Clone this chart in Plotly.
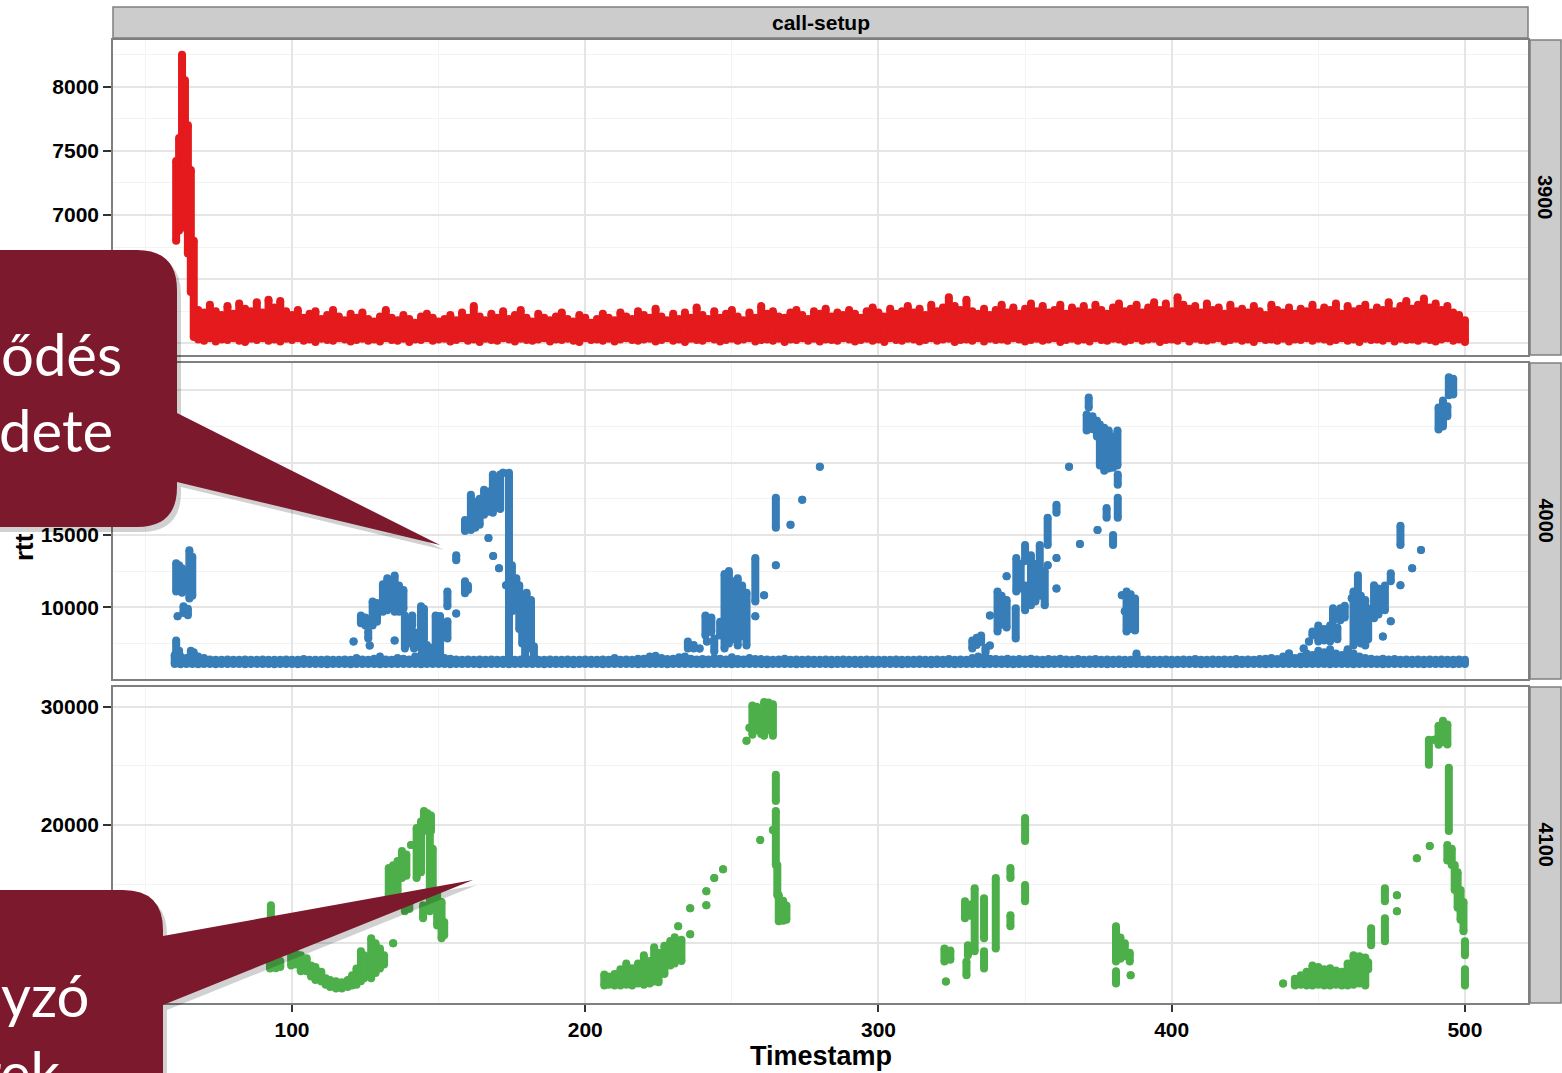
import plotly.graph_objects as go

W, H = 1562, 1073

# ---------------- data ----------------
# Each entry: a timestamp with the lowest and highest rtt seen at that time
# facet 3900 (red)
red_peak_t = [60.5, 61.5, 62.5, 63.5, 64.5, 65.5, 66.5]
red_peak_lo = [6800, 6880, 6900, 6950, 6700, 6400, 6050]
red_peak_hi = [7420, 7600, 8250, 8050, 7700, 7350, 6800]

red_band_t = list(range(68, 501, 2))
red_band_hi = [
    6260, 6240, 6300, 6250, 6220, 6290, 6230, 6310, 6270, 6250,
    6320, 6240, 6340, 6280, 6330, 6250, 6220, 6260, 6200, 6230,
    6250, 6190, 6220, 6260, 6210, 6180, 6230, 6200, 6240, 6190,
    6170, 6210, 6260, 6200, 6180, 6220, 6190, 6160, 6210, 6230,
    6200, 6170, 6190, 6220, 6180, 6240, 6200, 6290, 6210, 6180,
    6230, 6200, 6250, 6190, 6220, 6260, 6200, 6170, 6230, 6200,
    6180, 6210, 6240, 6190, 6170, 6220, 6200, 6160, 6190, 6230,
    6200, 6180, 6240, 6210, 6190, 6250, 6220, 6200, 6270, 6210,
    6180, 6230, 6190, 6240, 6200, 6280, 6220, 6190, 6250, 6200,
    6230, 6260, 6210, 6180, 6240, 6200, 6290, 6230, 6250, 6210,
    6200, 6240, 6260, 6220, 6190, 6250, 6230, 6270, 6210, 6240,
    6220, 6260, 6230, 6200, 6250, 6280, 6240, 6210, 6270, 6230,
    6250, 6290, 6240, 6270, 6220, 6300, 6250, 6280, 6360, 6290,
    6260, 6340, 6250, 6230, 6270, 6220, 6260, 6300, 6240, 6280,
    6230, 6270, 6310, 6250, 6290, 6240, 6260, 6300, 6230, 6280,
    6250, 6290, 6240, 6300, 6260, 6230, 6280, 6310, 6250, 6270,
    6300, 6240, 6280, 6320, 6260, 6310, 6250, 6360, 6300, 6270,
    6290, 6240, 6310, 6260, 6280, 6230, 6300, 6250, 6270, 6240,
    6290, 6250, 6220, 6300, 6260, 6240, 6280, 6230, 6270, 6250,
    6300, 6240, 6280, 6260, 6310, 6230, 6290, 6250, 6270, 6300,
    6240, 6280, 6260, 6320, 6250, 6290, 6330, 6270, 6300, 6350,
    6280, 6310, 6260, 6290, 6240, 6220, 6180,
]
red_band_lo = [
    6030, 6020, 6040, 6015, 6030, 6025, 6040, 6020, 6010, 6035,
    6025, 6040, 6020, 6030, 6015, 6035, 6025, 6040, 6020, 6030,
    6010, 6035, 6025, 6020, 6040, 6030, 6015, 6025, 6035, 6020,
    6030, 6015, 6040, 6025, 6020, 6035, 6010, 6030, 6025, 6040,
    6020, 6030, 6035, 6015, 6025, 6040, 6020, 6030, 6010, 6035,
    6025, 6020, 6040, 6030, 6015, 6035, 6025, 6020, 6030, 6040,
    6015, 6030, 6025, 6035, 6020, 6010, 6040, 6025, 6030, 6020,
    6035, 6015, 6030, 6040, 6025, 6020, 6030, 6035, 6015, 6025,
    6040, 6020, 6030, 6010, 6035, 6025, 6020, 6040, 6030, 6015,
    6025, 6035, 6020, 6030, 6040, 6015, 6025, 6030, 6020, 6035,
    6010, 6030, 6025, 6040, 6020, 6035, 6015, 6030, 6025, 6020,
    6040, 6030, 6015, 6025, 6035, 6020, 6030, 6010, 6040, 6025,
    6020, 6035, 6030, 6015, 6025, 6040, 6020, 6030, 6035, 6010,
    6025, 6030, 6020, 6040, 6015, 6035, 6025, 6030, 6020, 6040,
    6030, 6015, 6025, 6035, 6020, 6030, 6040, 6010, 6025, 6035,
    6020, 6030, 6015, 6040, 6025, 6020, 6035, 6030, 6015, 6025,
    6040, 6020, 6030, 6035, 6010, 6025, 6030, 6020, 6040, 6015,
    6035, 6025, 6020, 6030, 6040, 6015, 6025, 6035, 6020, 6030,
    6010, 6040, 6025, 6030, 6020, 6035, 6015, 6030, 6025, 6040,
    6020, 6035, 6030, 6015, 6025, 6040, 6020, 6030, 6010, 6035,
    6025, 6030, 6020, 6040, 6015, 6035, 6025, 6030, 6020, 6035,
    6025, 6015, 6030, 6040, 6020, 6030, 6010,
]

# facet 4000 (blue)
blue_base_t = list(range(60, 501, 2))
blue_base_hi = [
    6700, 6600, 6500, 6450, 6600, 6500, 6400, 6380, 6380, 6390,
    6380, 6370, 6390, 6380, 6380, 6400, 6380, 6370, 6380, 6390,
    6380, 6380, 6420, 6380, 6370, 6380, 6400, 6380, 6380, 6390,
    6380, 6500, 6400, 6380, 6450, 6600, 6400, 6380, 6500, 6450,
    6400, 6600, 6700, 6800, 6900, 6700, 6500, 6450, 6400, 6380,
    6400, 6380, 6390, 6380, 6400, 6380, 6380, 6390, 6380, 6400,
    6450, 6400, 6380, 6380, 6390, 6380, 6380, 6400, 6380, 6380,
    6390, 6380, 6380, 6400, 6380, 6500, 6380, 6400, 6380, 6450,
    6450, 6600, 6650, 6500, 6420, 6450, 6550, 6600, 6450, 6400,
    6420, 6400, 6500, 6450, 6400, 6550, 6420, 6400, 6500, 6420,
    6420, 6400, 6380, 6400, 6450, 6380, 6400, 6380, 6400, 6380,
    6380, 6390, 6380, 6380, 6390, 6380, 6380, 6380, 6390, 6380,
    6380, 6380, 6380, 6390, 6380, 6380, 6380, 6390, 6380, 6380,
    6400, 6380, 6420, 6380, 6400, 6380, 6500, 6600, 6550, 6450,
    6420, 6400, 6450, 6400, 6420, 6400, 6450, 6400, 6380, 6420,
    6400, 6450, 6400, 6380, 6420, 6380, 6400, 6420, 6380, 6400,
    6380, 6400, 6380, 6380, 6390, 6380, 6400, 6380, 6380, 6390,
    6380, 6380, 6390, 6380, 6420, 6380, 6380, 6390, 6380, 6400,
    6380, 6420, 6380, 6400, 6380, 6420, 6450, 6500, 6420, 6600,
    6700, 6500, 6600, 6800, 6700, 7000, 6900, 7100, 6800, 6700,
    7000, 6800, 6600, 6500, 6450, 6400, 6450, 6400, 6420, 6380,
    6400, 6380, 6390, 6380, 6400, 6380, 6390, 6380, 6380, 6390,
    6380,
]
blue_base_lo = [
    6080, 6070, 6090, 6080, 6060, 6080, 6090, 6070, 6080, 6080,
    6090, 6080, 6070, 6080, 6090, 6080, 6080, 6070, 6090, 6080,
    6080, 6070, 6080, 6090, 6080, 6080, 6070, 6080, 6090, 6080,
    6070, 6080, 6080, 6090, 6080, 6070, 6080, 6080, 6090, 6080,
    6080, 6090, 6070, 6080, 6080, 6090, 6080, 6070, 6080, 6090,
    6080, 6080, 6070, 6090, 6080, 6080, 6090, 6070, 6080, 6080,
    6090, 6080, 6080, 6070, 6080, 6090, 6080, 6080, 6070, 6080,
    6080, 6090, 6080, 6070, 6080, 6080, 6090, 6080, 6080, 6070,
    6080, 6080, 6090, 6080, 6070, 6080, 6080, 6090, 6080, 6080,
    6070, 6080, 6090, 6080, 6080, 6070, 6080, 6090, 6080, 6080,
    6080, 6070, 6080, 6090, 6080, 6080, 6070, 6080, 6090, 6080,
    6090, 6080, 6070, 6080, 6080, 6090, 6080, 6070, 6080, 6080,
    6080, 6090, 6080, 6080, 6070, 6080, 6090, 6080, 6080, 6070,
    6080, 6080, 6090, 6070, 6080, 6080, 6090, 6080, 6070, 6080,
    6090, 6080, 6080, 6070, 6080, 6090, 6080, 6080, 6070, 6080,
    6080, 6090, 6080, 6070, 6080, 6080, 6090, 6080, 6080, 6070,
    6080, 6080, 6070, 6090, 6080, 6080, 6070, 6080, 6090, 6080,
    6070, 6080, 6080, 6090, 6080, 6070, 6080, 6080, 6090, 6080,
    6080, 6070, 6090, 6080, 6080, 6090, 6070, 6080, 6080, 6090,
    6080, 6080, 6070, 6080, 6090, 6080, 6080, 6070, 6080, 6090,
    6080, 6070, 6080, 6090, 6080, 6080, 6070, 6080, 6090, 6080,
    6080, 6090, 6080, 6070, 6080, 6080, 6090, 6080, 6070, 6080,
    6080,
]

blue_t = [
    60.5, 61.5, 62.5, 65.0, 66.0, 61.0, 63.0, 64.5, 60.5, 61.5, 65.5, 66.5,
    121, 123.5, 125, 126, 126.5, 127.5, 129, 131, 132.5, 134, 135, 135,
    136.5, 138, 138.5, 140, 141, 141.6, 144, 145, 144.5, 146, 147.5, 149,
    150.5, 153, 153, 156, 156, 159, 160, 159, 161, 162.5, 164, 167,
    165.5, 167, 168.5, 170, 171, 168.6, 170.6, 172, 173, 174, 175, 176.5,
    177.5, 178.5, 180, 181.5, 179.5, 182.5,
    235, 237, 239, 241, 241.5, 243, 244, 246, 247.5, 249, 250.5, 252,
    253.5, 255, 258, 258, 261, 265, 265, 270, 274, 280,
    332, 333.5, 335, 336.5, 338, 338, 340.6, 342, 343.7, 343.7, 346.8, 347,
    348.5, 350, 350, 352, 353.5, 355, 356.7, 357.7, 357.7, 360.7, 360.7, 360.7,
    365, 368.7, 371.7, 371, 373, 374.5, 374.7, 375.5, 377, 377.8, 378.5, 380,
    380, 381.5, 381.6, 381.6, 383, 384, 384.6, 386, 387.5, 388,
    440, 445, 446.8, 448, 450, 452, 454, 455, 456.5, 457.5, 459, 460,
    461.4, 462, 463.5, 464.5, 466, 467, 469, 470.5, 472, 472.7, 474.7, 474.7,
    478, 478, 482, 485, 491, 492.5, 494, 494.5, 496,
]
blue_lo = [
    11100, 11200, 11000, 10600, 10800, 9375, 9600, 9450, 6460, 6460, 6460, 6460,
    7640, 8900, 8750, 7850, 7360, 8750, 9000, 9700, 9800, 10100, 9700, 7700,
    9700, 9900, 7150, 7500, 8750, 7150, 7150, 7800, 6250, 6300, 6250, 6900,
    6250, 10070, 7850, 13260, 9580, 10970, 11200, 15280, 15350, 15500, 15700, 14790,
    16390, 16600, 16530, 17000, 16800, 13540, 12700, 19300, 11530, 6460, 9720, 9800,
    8500, 7500, 7150, 7150, 6460, 6460,
    7150, 7150, 7150, 8050, 7640, 8300, 6940, 8050, 7150, 7500, 7800, 7360,
    8000, 7360, 10400, 9375, 10830, 15490, 12900, 15700, 17430, 19720,
    7150, 7400, 7600, 6900, 9440, 7360, 8330, 8800, 12150, 8600, 7850, 11100,
    11300, 13200, 9800, 10140, 10400, 10800, 10140, 14300, 12900, 16530, 13400, 11300,
    19720, 14380, 23800, 22220, 22300, 21800, 15350, 19800, 19440, 16180, 19600, 19650,
    14300, 19800, 18470, 16180, 10830, 9720, 8330, 8500, 8400, 6460,
    6800, 7150, 7640, 8050, 7640, 7700, 7640, 9030, 7800, 9100, 9300, 6800,
    10625, 7360, 10625, 7500, 7360, 7800, 9240, 9500, 7990, 9800, 9030, 11800,
    11530, 14300, 12700, 13960, 22290, 22500, 23200, 24650, 24700,
]
blue_hi = [
    13050, 12900, 12700, 13950, 13500, 9375, 10070, 9900, 7700, 7000, 7000, 6900,
    7640, 9440, 9300, 8330, 7360, 10400, 10300, 11600, 12000, 11800, 12200, 7700,
    11500, 11200, 9440, 9000, 9440, 8300, 10070, 9900, 7850, 7400, 7200, 9440,
    9400, 11100, 9030, 13600, 9580, 11800, 11500, 16040, 17780, 17300, 17500, 14790,
    18120, 18000, 19170, 19000, 19170, 13540, 12700, 19300, 11530, 19300, 12900, 12000,
    11530, 10800, 11000, 10500, 7640, 7300,
    7640, 7400, 7150, 9440, 7640, 9300, 7850, 9000, 12300, 12500, 11800, 12000,
    11500, 11000, 13400, 9375, 10830, 17570, 12900, 15700, 17430, 19720,
    7700, 7900, 8050, 7200, 9440, 7360, 11100, 10800, 12150, 10500, 9930, 13400,
    13000, 14300, 11500, 13600, 13000, 14300, 12500, 16180, 12900, 17080, 13400, 11300,
    19720, 14380, 24500, 23330, 23200, 22900, 15350, 22640, 22400, 16870, 22220, 21800,
    15000, 22220, 19170, 17570, 10830, 9720, 11100, 10900, 10600, 6800,
    6800, 7150, 7640, 8330, 8750, 8500, 8750, 9930, 8600, 9930, 10100, 7100,
    10625, 11100, 12220, 10800, 10500, 9900, 11530, 11300, 7990, 11500, 9030, 12360,
    11530, 15630, 12700, 13960, 23800, 24300, 23900, 25900, 25800,
]

# facet 4100 (green)
green_t = [
    92.8, 92.5, 94.5, 96, 99.7, 101.5, 103, 105, 106.5, 108, 110, 111.5,
    113, 115, 117, 119, 120.5, 122, 123.5, 124.6, 127, 128.5, 130, 131.4,
    134.5, 133, 134.5, 136, 137.5, 139, 138.5, 140, 140.6, 142.5, 144, 145,
    146.2, 147.4, 144.7, 147, 148, 149.5, 151, 151.9,
    206.5, 208, 210, 212, 214, 216, 218, 220, 222, 223.5, 225, 227,
    229, 230.5, 231.7, 232.8, 235.8, 235.8, 241.3, 241.3, 244, 247, 255, 256,
    257, 258.5, 260, 261, 262.5, 264, 259.7, 264, 265, 265, 265.5, 266,
    267.5, 268.6,
    322.5, 323, 324.5, 329.5, 330, 330.5, 331.7, 332.8, 336, 336, 340, 345,
    345, 350, 350,
    381, 382.5, 384, 385.7, 381, 386,
    438, 442, 444, 446, 448, 450, 452, 454, 456, 458, 460, 462,
    464, 466, 467, 468, 472.7, 472.7, 476.8, 476.8, 483.6, 488, 487.7, 489.5,
    491, 492.5, 494, 494.5, 494, 495.5, 496.5, 497.5, 498.5, 499.5, 500, 500,
]
green_lo = [
    12120, 7880, 7900, 8000, 8130, 8200, 7630, 7630, 7200, 6900, 6780, 6500,
    6300, 6190, 6190, 6300, 6440, 6500, 6800, 7040, 7040, 7500, 7880, 8200,
    10000, 14070, 14200, 14410, 15510, 15700, 12710, 12900, 18300, 15510, 16000, 19500,
    19700, 19500, 12120, 12710, 13000, 11500, 10420, 10680,
    6440, 6500, 6440, 6440, 6500, 6440, 6600, 6500, 6610, 6780, 6700, 7400,
    8130, 8300, 11440, 8500, 12970, 10760, 14410, 13220, 15510, 16270, 27120, 28220,
    27630, 28000, 27700, 27540, 28000, 27540, 18730, 19580, 22030, 16610, 14070, 11860,
    11900, 12000,
    8470, 6780, 8600, 12120, 7290, 8980, 12300, 9320, 10420, 7880, 9570, 15510,
    11440, 18640, 13560,
    8470, 8700, 8900, 8470, 6610, 7290,
    6610, 6440, 6500, 6440, 6440, 6500, 6440, 6440, 6500, 6440, 6440, 6500,
    6600, 6440, 7800, 9830, 13560, 10170, 14070, 12710, 17200, 18220, 25090, 27200,
    26780, 27000, 26800, 19490, 17000, 16610, 14500, 13000, 12000, 11020, 9000, 6440,
]
green_hi = [
    13220, 8980, 8700, 8500, 9320, 9100, 9000, 8730, 8130, 8000, 7600, 7040,
    6900, 6800, 6700, 6900, 7300, 7880, 9320, 9000, 10420, 10000, 9570, 9000,
    10000, 16360, 16600, 16950, 17800, 17500, 13810, 13400, 18300, 19750, 20300, 21190,
    21000, 20800, 13220, 19500, 18000, 14410, 13500, 11800,
    7370, 7200, 7400, 7800, 8300, 7900, 8300, 8980, 8500, 9660, 9200, 9800,
    10200, 10510, 11440, 10300, 12970, 10760, 14410, 13220, 15510, 16270, 27120, 28220,
    30100, 30000, 29500, 30400, 30350, 30200, 18730, 19580, 24240, 21190, 16610, 14070,
    13600, 13200,
    9570, 6780, 9400, 13560, 8470, 9830, 13300, 14660, 13810, 9320, 15510, 16360,
    12370, 20590, 14920,
    11440, 10500, 10000, 9200, 7630, 7290,
    6610, 7000, 7300, 7600, 8130, 8000, 7800, 7900, 7700, 7600, 8300, 9000,
    8900, 8800, 8400, 11270, 14660, 12120, 14070, 12710, 17200, 18220, 27200, 27200,
    28400, 28810, 28500, 24830, 18300, 18000, 16610, 16000, 14500, 13500, 10170, 7800,
]

facets = ["3900", "4000", "4100"]
strip_title = "call-setup"
x_title = "Timestamp"
y_title = "rtt"
callout_lines = ["ődés", "dete", "yzó", "rek"]

# tick values per facet; labels hidden under the callouts are left empty
y_tickvals = [[6000, 6500, 7000, 7500, 8000],
              [10000, 15000, 20000, 25000],
              [10000, 20000, 30000]]
y_ticktext = [["", "", "7000", "7500", "8000"],
              ["10000", "15000", "", ""],
              ["", "20000", "30000"]]
x_tickvals = [100, 200, 300, 400, 500]

RED, BLUE, GREEN = "#E41A1C", "#377EB8", "#4DAF4A"
MAROON = "#7D192D"


def columns(ts, los, his):
    xs, ys = [], []
    for t, lo, hi in zip(ts, los, his):
        xs += [t, t, None]
        ys += [lo, hi, None]
    return xs, ys


fig = go.Figure()


def add_cols(ts, los, his, color, xa, ya):
    xs, ys = columns(ts, los, his)
    fig.add_trace(go.Scatter(
        x=xs, y=ys, mode="lines+markers", xaxis=xa, yaxis=ya,
        line=dict(color=color, width=8),
        marker=dict(color=color, size=8, line=dict(width=0)),
        showlegend=False, hoverinfo="skip"))


add_cols(red_band_t, red_band_lo, red_band_hi, RED, "x", "y")
add_cols(red_peak_t, red_peak_lo, red_peak_hi, RED, "x", "y")
add_cols(blue_base_t, blue_base_lo, blue_base_hi, BLUE, "x2", "y2")
add_cols(blue_t, blue_lo, blue_hi, BLUE, "x2", "y2")
add_cols(green_t, green_lo, green_hi, GREEN, "x3", "y3")


def py(y):
    return 1 - y / H


def px(x):
    return x / W


XDOM = [px(113), px(1528)]
XRANGE = [38.96, 521.5]
panels = [(40, 355, [5909, 8364], 250),
          (363, 679, [5045, 26883], 2500),
          (687, 1003, [4954, 31665], 5000)]

tickfont = dict(family="Liberation Sans", size=21, color="black", weight="bold")
layout = dict(width=W, height=H, margin=dict(l=0, r=0, t=0, b=0),
              paper_bgcolor="white", plot_bgcolor="white", showlegend=False)

for i, (top, bot, yr, mdt) in enumerate(panels):
    sfx = "" if i == 0 else str(i + 1)
    last = i == 2
    layout["xaxis" + sfx] = dict(
        domain=XDOM, range=XRANGE, anchor="y" + sfx,
        tickmode="array", tickvals=x_tickvals, ticktext=[str(v) for v in x_tickvals],
        showgrid=True, gridcolor="#E5E5E5", gridwidth=1.6,
        minor=dict(dtick=50, tick0=0, showgrid=True, gridcolor="#F3F3F3", gridwidth=1.2),
        showline=True, mirror=True, linecolor="#7F7F7F", linewidth=1.5,
        zeroline=False, showticklabels=last, ticks="outside" if last else "",
        ticklen=7, tickwidth=1.5, tickcolor="#333333", tickfont=tickfont)
    layout["yaxis" + sfx] = dict(
        domain=[py(bot), py(top)], range=yr, anchor="x" + sfx,
        tickmode="array", tickvals=y_tickvals[i], ticktext=y_ticktext[i],
        showgrid=True, gridcolor="#E5E5E5", gridwidth=1.6,
        minor=dict(dtick=mdt, tick0=0, showgrid=True, gridcolor="#F3F3F3", gridwidth=1.2),
        showline=True, mirror=True, linecolor="#7F7F7F", linewidth=1.5,
        zeroline=False, ticks="outside", ticklen=8, tickwidth=1.5,
        tickcolor="#333333", tickfont=tickfont)

shapes = []
annotations = []

bold = dict(family="Liberation Sans", color="black", weight="bold")

# top strip
shapes.append(dict(type="rect", xref="paper", yref="paper",
                   x0=px(113), x1=px(1528), y0=py(38), y1=py(7),
                   fillcolor="#CCCCCC", line=dict(color="#7F7F7F", width=1.5)))
annotations.append(dict(text=strip_title, xref="paper", yref="paper",
                        x=px(820.5), y=py(23), xanchor="center", yanchor="middle",
                        showarrow=False, font=dict(size=21, **bold)))
# right strips
for (top, bot, _, _), lab in zip(panels, facets):
    shapes.append(dict(type="rect", xref="paper", yref="paper",
                       x0=px(1530), x1=px(1561), y0=py(bot), y1=py(top),
                       fillcolor="#CCCCCC", line=dict(color="#7F7F7F", width=1.5)))
    annotations.append(dict(text=lab, xref="paper", yref="paper",
                            x=px(1545.5), y=py((top + bot) / 2),
                            xanchor="center", yanchor="middle",
                            showarrow=False, textangle=90, font=dict(size=20, **bold)))

# axis titles
annotations.append(dict(text=x_title, xref="paper", yref="paper", x=px(820.5), y=py(1056),
                        xanchor="center", yanchor="middle", showarrow=False,
                        font=dict(size=27, **bold)))
annotations.append(dict(text=y_title, xref="paper", yref="paper", x=px(24), y=py(547),
                        xanchor="center", yanchor="middle", showarrow=False, textangle=-90,
                        font=dict(size=26, **bold)))


def P(x, y):
    return f"{px(x):.5f},{py(y):.5f}"


def callout1(dx=0, dy=0):
    return " ".join([
        "M" + P(-20 + dx, 250 + dy), "L" + P(137 + dx, 250 + dy),
        "Q" + P(177 + dx, 250 + dy), P(177 + dx, 290 + dy),
        "L" + P(177 + dx, 413 + dy), "L" + P(440 + dx, 545 + dy),
        "L" + P(177 + dx, 482 + dy), "L" + P(177 + dx, 487 + dy),
        "Q" + P(177 + dx, 527 + dy), P(137 + dx, 527 + dy),
        "L" + P(-20 + dx, 527 + dy), "Z"])


def callout2(dx=0, dy=0):
    return " ".join([
        "M" + P(-20 + dx, 890 + dy), "L" + P(123 + dx, 890 + dy),
        "Q" + P(163 + dx, 890 + dy), P(163 + dx, 930 + dy),
        "L" + P(163 + dx, 936 + dy), "L" + P(473 + dx, 880 + dy),
        "L" + P(163 + dx, 1005 + dy), "L" + P(163 + dx, 1095 + dy),
        "L" + P(-20 + dx, 1095 + dy), "Z"])


for fn in (callout1, callout2):
    shapes.append(dict(type="path", xref="paper", yref="paper", layer="above",
                       path=fn(4, 5), fillcolor="rgba(0,0,0,0.18)", line=dict(width=0)))
    shapes.append(dict(type="path", xref="paper", yref="paper", layer="above",
                       path=fn(), fillcolor=MAROON, line=dict(width=0)))

call_font = dict(family="Lato", size=58, color="white")
# (x anchor position in px, anchor side, baseline in px)
callout_pos = [(123, "right", 372), (-2, "left", 448), (0, "left", 1013), (62, "right", 1090)]
for txt, (xr, anc, base) in zip(callout_lines, callout_pos):
    annotations.append(dict(text=txt, xref="paper", yref="paper", x=px(xr), y=py(base - 19),
                            xanchor=anc, yanchor="middle", showarrow=False,
                            borderpad=0, font=call_font))

layout["shapes"] = shapes
layout["annotations"] = annotations
fig.update_layout(**layout)
fig.write_html("out.html")
